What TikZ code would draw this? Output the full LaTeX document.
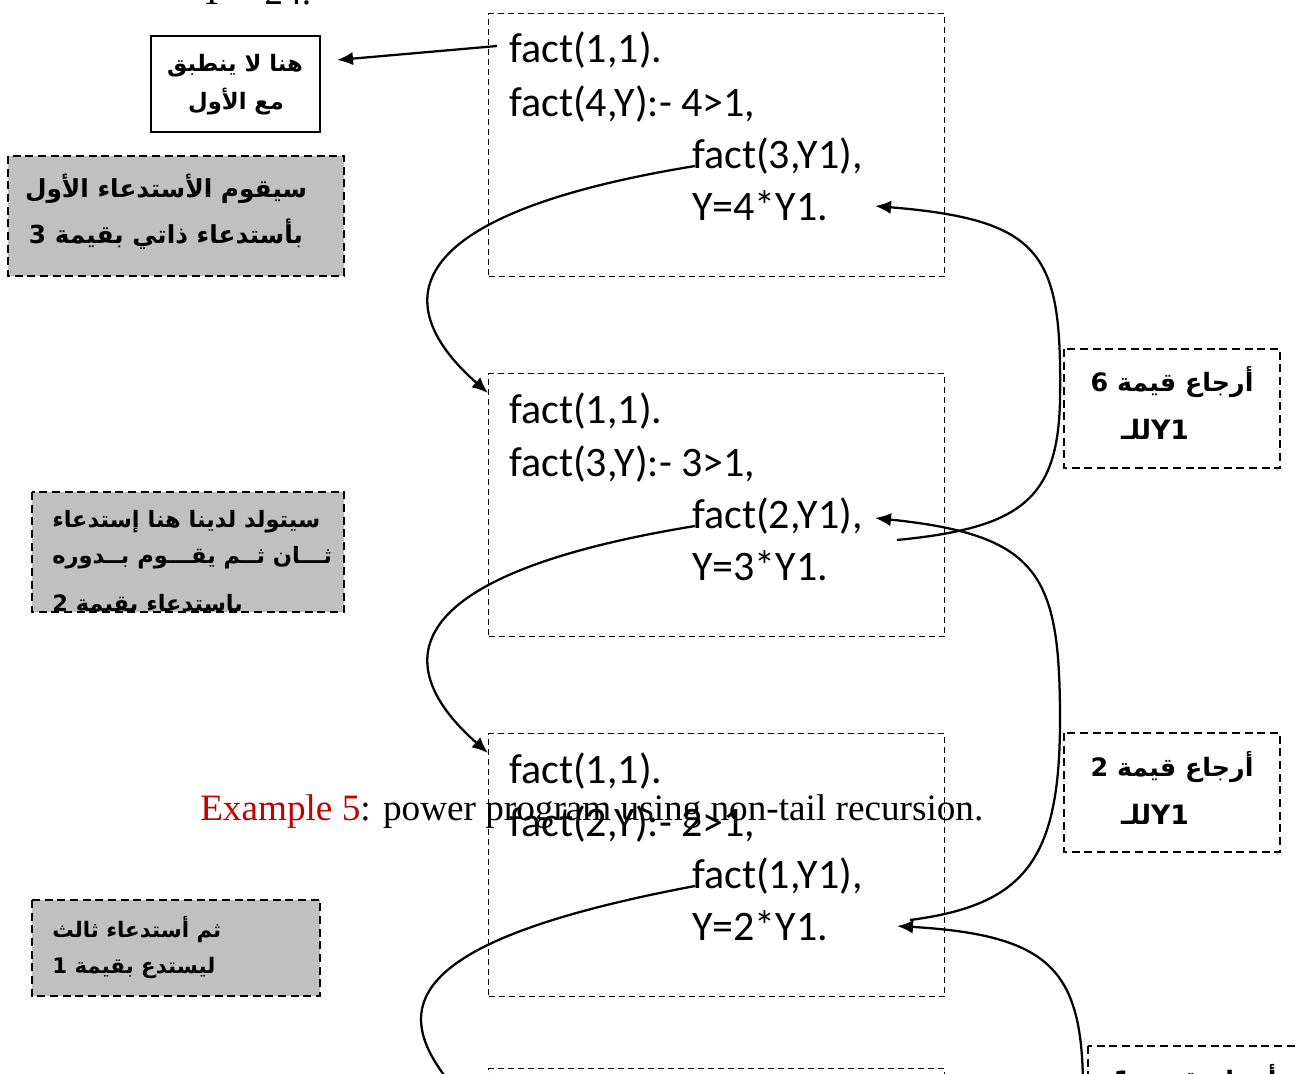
\documentclass[tikz,border=0pt]{standalone}
\usepackage{fontspec}
\setmainfont{Liberation Serif}
\newfontfamily\codefont{Carlito}
\newfontfamily\arfont[Script=Arabic]{DejaVu Sans}
\TeXXeTstate=1
\usetikzlibrary{arrows.meta}
\definecolor{boxgray}{RGB}{192,192,192}
\definecolor{exred}{RGB}{192,0,0}
\begin{document}
\begin{tikzpicture}[x=0.75pt,y=-0.75pt,
  codebox/.style={draw, dash pattern=on 4.5pt off 3pt, line width=0.9pt, anchor=north west, inner sep=0pt, minimum width=342pt, minimum height=197.25pt},
  codeline/.style={anchor=base west, inner sep=0pt, font=\codefont\fontsize{31.5pt}{36pt}\selectfont},
  serifline/.style={anchor=base west, inner sep=0pt, font=\fontsize{27.9pt}{32pt}\selectfont},
  graybox/.style={draw, fill=boxgray, dash pattern=on 6pt off 3.5pt, line width=1.1pt},
  notebox/.style={draw, dash pattern=on 6pt off 3.5pt, line width=1.1pt},
  artext/.style={inner sep=0pt, font=\arfont\bfseries\fontsize{#1}{#1}\selectfont},
  flow/.style={line width=1.7pt, -{Latex[length=12pt,width=10pt]}},
  plainflow/.style={line width=1.7pt}]
\useasboundingbox (0,0) rectangle (1299,1074);
\clip (0,0) rectangle (1299,1074);

% top cut text
\node[serifline] (toptext) at (198,5) {Y = 24.};

% code boxes
\node[codebox] (b1) at (488,13) {};
\node[codebox] (b2) at (488,373) {};
\node[codebox] (b3) at (488,733) {};
\node[codebox] (b4) at (488,1068) {};

% box 1 text
\node[codeline] (l11) at (509,63) {fact(1,1).};
\node[codeline] (l12) at (509,116) {fact(4,Y):- 4>1,};
\node[codeline] (l13) at (692,168) {fact(3,Y1),};
\node[codeline] (l14) at (692,220) {Y=4*Y1.};
% box 2 text
\node[codeline] (l21) at (509,423) {fact(1,1).};
\node[codeline] (l22) at (509,476) {fact(3,Y):- 3>1,};
\node[codeline] (l23) at (692,528) {fact(2,Y1),};
\node[codeline] (l24) at (692,580) {Y=3*Y1.};
% box 3 text
\node[codeline] (l31) at (509,783) {fact(1,1).};
\node[codeline] (l32) at (509,836) {fact(2,Y):- 2>1,};
\node[codeline] (l33) at (692,888) {fact(1,Y1),};
\node[codeline] (l34) at (692,940) {Y=2*Y1.};

% caption over box 3
\node[serifline] (caption) at (200,820) {\textcolor{exred}{Example 5}: power program using non-tail recursion.};

% left solid box
\draw[line width=1.5pt] (151,36) rectangle (320,132);
\node[artext=17pt] (t1a) at (235,66) {\beginR هنا لا ينطبق\endR};
\node[artext=17pt] (t1b) at (236,102) {\beginR مع الأول\endR};
\coordinate (boxAe) at (337,60);

% gray box 1
\draw[graybox] (8,156) rectangle (344,276);
\node[artext=18.6pt] (g1a) at (166,189) {\beginR سيقوم الأستدعاء الأول\endR};
\node[artext=18.6pt] (g1b) at (166,234) {\beginR بأستدعاء ذاتي بقيمة 3\endR};

% gray box 2 (text clipped by box)
\fill[boxgray] (32,492) rectangle (344,612);
\begin{scope}
\clip (32,492) rectangle (344,612);
\node[artext=16.9pt, anchor=west] (g2a) at (52,522) {\beginR سيتولد لدينا هنا إستدعاء\endR};
\node[artext=16.9pt, anchor=west] (g2b) at (52,558) {\beginR ثـــان ثــم يقـــوم بــدوره\endR};
\node[artext=16.9pt, anchor=west] (g2c) at (52,605) {\beginR باستدعاء بقيمة 2\endR};
\end{scope}
\draw[notebox] (32,492) rectangle (344,612);

% gray box 3
\draw[graybox] (32,900) rectangle (320,996);
\node[artext=16pt, anchor=west] (g3a) at (52,929) {\beginR ثم أستدعاء ثالث\endR};
\node[artext=16pt, anchor=west] (g3b) at (52,968) {\beginR ليستدع بقيمة 1\endR};

% right boxes
\draw[notebox] (1064,349) rectangle (1280,468);
\node[artext=19pt] (r1a) at (1172,382) {\beginR أرجاع قيمة 6\endR};
\node[artext=20pt] (r1b) at (1155,429) {\beginR للـ\endR Y1};
\draw[notebox] (1064,733) rectangle (1280,852);
\node[artext=19pt] (r2a) at (1172,767) {\beginR أرجاع قيمة 2\endR};
\node[artext=20pt] (r2b) at (1155,814) {\beginR للـ\endR Y1};
\draw[notebox] (1088,1046) rectangle (1320,1120);
\node[artext=19pt] (r3a) at (1195,1080) {\beginR أرجاع قيمة 1\endR};

% connector coordinates
\coordinate (s1) at (497,46);
\coordinate (c1s) at (695,166);
\coordinate (c1e) at (488,393);
\coordinate (c2s) at (695,526);
\coordinate (c2e) at (488,753);
\coordinate (c3s) at (695,886);
\coordinate (c3e) at (490,1125);
\coordinate (r1s) at (897,540);
\coordinate (r1m) at (1060,400);
\coordinate (r1e) at (875,206);
\coordinate (r2s) at (910,920);
\coordinate (r2m) at (1060,720);
\coordinate (r2e) at (875,518);
\coordinate (r3s) at (1083,1085);
\coordinate (r3e) at (897,926);

% connectors
\draw[flow] (s1) -- (boxAe);
\draw[flow] (c1s) .. controls (365,220) and (405,320) .. (c1e);
\draw[flow] (c2s) .. controls (365,580) and (405,680) .. (c2e);
\draw[plainflow] (c3s) .. controls (355,950) and (390,1030) .. (c3e);
\draw[plainflow] (r1s) .. controls (1020,528) and (1058,500) .. (r1m);
\draw[flow] (r1m) .. controls (1062,255) and (1045,220) .. (r1e);
\draw[plainflow] (r2s) .. controls (1025,905) and (1060,860) .. (r2m);
\draw[flow] (r2m) .. controls (1060,575) and (1040,535) .. (r2e);
\draw[flow] (r3s) .. controls (1082,970) and (1050,935) .. (r3e);
\end{tikzpicture}
\end{document}
